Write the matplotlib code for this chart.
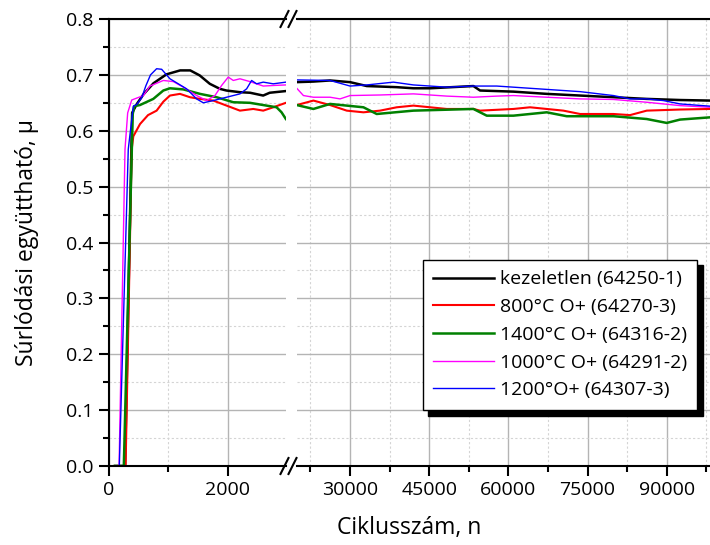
import matplotlib
matplotlib.use("Agg")
import matplotlib.pyplot as plt
from matplotlib.lines import Line2D
from matplotlib.ticker import MultipleLocator, FixedLocator, FormatStrFormatter

plt.rcParams['font.family'] = ['Open Sans', 'DejaVu Sans']

# ----------------------------------------------------------------------
# data: cycles / friction coefficient, left (start-up) and right (long run)
# ----------------------------------------------------------------------
labels = ["kezeletlen (64250-1)", "800°C O+ (64270-3)", "1400°C O+ (64316-2)",
          "1000°C O+ (64291-2)", "1200°O+ (64307-3)"]
colors = ["black", "#ff0000", "#008000", "#ff00ff", "#0000ff"]
widths = [1.8, 1.5, 1.8, 1.0, 1.0]

black_x_l = [100, 270, 390, 470, 580, 750, 970, 1200, 1370, 1530, 1700, 1870, 1980, 2210, 2380, 2600, 2710, 2980]
black_y_l = [0, 0, 0.632, 0.648, 0.665, 0.685, 0.701, 0.708, 0.708, 0.699, 0.684, 0.675, 0.672, 0.669, 0.668, 0.663, 0.668, 0.671]
red_x_l = [100, 280, 383, 410, 523, 658, 803, 916, 1028, 1197, 1365, 1534, 1758, 1983, 2208, 2433, 2601, 2770, 2983]
red_y_l = [0, 0, 0.567, 0.59, 0.612, 0.628, 0.636, 0.652, 0.663, 0.666, 0.660, 0.657, 0.654, 0.645, 0.636, 0.639, 0.636, 0.642, 0.650]
green_x_l = [100, 250, 400, 427, 522, 747, 916, 1028, 1253, 1534, 1815, 2096, 2376, 2657, 2826, 2910, 2983]
green_y_l = [0, 0, 0.63, 0.644, 0.646, 0.657, 0.672, 0.676, 0.674, 0.666, 0.660, 0.651, 0.650, 0.645, 0.642, 0.633, 0.621]
magenta_x_l = [100, 170, 270, 315, 383, 580, 690, 916, 1084, 1253, 1478, 1646, 1787, 1899, 2011, 2096, 2208, 2376, 2601, 2770, 2983]
magenta_y_l = [0, 0, 0.567, 0.632, 0.655, 0.663, 0.680, 0.690, 0.688, 0.678, 0.663, 0.654, 0.663, 0.681, 0.696, 0.690, 0.693, 0.688, 0.680, 0.681, 0.682]
blue_x_l = [100, 174, 325, 410, 467, 551, 620, 700, 803, 888, 1028, 1309, 1478, 1590, 1758, 1983, 2208, 2321, 2405, 2489, 2601, 2770, 2983]
blue_y_l = [0, 0, 0.567, 0.644, 0.647, 0.659, 0.680, 0.700, 0.711, 0.710, 0.693, 0.675, 0.657, 0.650, 0.654, 0.660, 0.666, 0.675, 0.690, 0.684, 0.687, 0.684, 0.687]

black_x_r = [19900, 23050, 26210, 30000, 33160, 38840, 42000, 45160, 53370, 54630, 60950, 67260, 73580, 79900, 86210, 92530, 98210]
black_y_r = [0.687, 0.688, 0.690, 0.687, 0.680, 0.678, 0.676, 0.676, 0.680, 0.672, 0.670, 0.666, 0.663, 0.660, 0.657, 0.655, 0.654]
red_x_r = [19900, 23050, 26210, 29370, 32530, 35680, 38840, 42000, 48320, 53370, 54630, 60950, 64100, 70420, 73580, 79900, 83050, 86210, 92530, 98210]
red_y_r = [0.646, 0.654, 0.646, 0.636, 0.633, 0.636, 0.642, 0.645, 0.639, 0.639, 0.636, 0.639, 0.642, 0.636, 0.630, 0.630, 0.628, 0.636, 0.638, 0.639]
green_x_r = [19900, 23050, 26210, 32530, 35050, 42000, 53370, 55900, 60950, 67260, 71050, 79900, 86210, 90000, 92530, 98210]
green_y_r = [0.646, 0.639, 0.648, 0.642, 0.630, 0.636, 0.639, 0.627, 0.627, 0.633, 0.626, 0.626, 0.621, 0.614, 0.620, 0.624]
magenta_x_r = [19900, 21160, 23050, 26210, 28100, 30000, 35680, 42000, 48320, 53370, 57790, 60950, 67260, 73580, 79900, 86210, 92530, 98210]
magenta_y_r = [0.676, 0.663, 0.660, 0.660, 0.657, 0.663, 0.664, 0.666, 0.662, 0.660, 0.662, 0.663, 0.660, 0.657, 0.656, 0.651, 0.645, 0.642]
blue_x_r = [19900, 26210, 30000, 33160, 38210, 42000, 48320, 53370, 57790, 60950, 67260, 73580, 79900, 83050, 86210, 89370, 92530, 98210]
blue_y_r = [0.691, 0.690, 0.680, 0.682, 0.687, 0.682, 0.678, 0.680, 0.680, 0.678, 0.674, 0.670, 0.663, 0.657, 0.657, 0.654, 0.648, 0.644]

left_series = [(black_x_l, black_y_l), (red_x_l, red_y_l), (green_x_l, green_y_l),
               (magenta_x_l, magenta_y_l), (blue_x_l, blue_y_l)]
right_series = [(black_x_r, black_y_r), (red_x_r, red_y_r), (green_x_r, green_y_r),
                (magenta_x_r, magenta_y_r), (blue_x_r, blue_y_r)]

# ----------------------------------------------------------------------
# figure with a broken x axis (two axes side by side)
# ----------------------------------------------------------------------
W, H = 710, 545
fig = plt.figure(figsize=(W / 100, H / 100), dpi=100)
bottom = 1 - 466 / H
height = (466 - 19) / H
ax_l = fig.add_axes([109 / W, bottom, 177.3 / W, height])
ax_r = fig.add_axes([297.3 / W, bottom, (W - 297.3) / W, height])

for (x, y), c, lw in zip(left_series, colors, widths):
    ax_l.plot(x, y, color=c, lw=lw)
for (x, y), c, lw, lab in zip(right_series, colors, widths, labels):
    ax_r.plot(x, y, color=c, lw=lw, label=lab)

ax_l.set_xlim(0, 2990)
ax_r.set_xlim(20000, 98200)
for ax in (ax_l, ax_r):
    ax.set_ylim(0, 0.8)
    ax.yaxis.set_major_locator(MultipleLocator(0.1))
    ax.yaxis.set_minor_locator(MultipleLocator(0.05))
    ax.grid(which='major', color='#b4b4b4', lw=1.0, ls='-')
    ax.grid(which='minor', color='#d4d4d4', lw=0.8, ls=(0, (2, 2)))
    ax.set_axisbelow(True)
    ax.spines['right'].set_visible(False)
    for s in ('top', 'bottom', 'left'):
        ax.spines[s].set_linewidth(1.5)
    ax.tick_params(which='major', direction='out', length=7, width=1.5, labelsize=14, pad=4)
    ax.tick_params(which='minor', direction='out', length=4, width=1.5)
    ax.tick_params(axis='both', which='both', top=False, right=False)

ax_l.xaxis.set_major_locator(FixedLocator([0, 2000]))
ax_l.xaxis.set_minor_locator(FixedLocator([1000]))
ax_l.yaxis.set_major_formatter(FormatStrFormatter('%.1f'))

ax_r.xaxis.set_major_locator(FixedLocator([30000, 45000, 60000, 75000, 90000]))
ax_r.xaxis.set_minor_locator(FixedLocator([22500, 37500, 52500, 67500, 82500, 97500]))
ax_r.spines['left'].set_visible(False)
ax_r.tick_params(axis='y', which='both', left=False, labelleft=False)

# break marks
for xb in (284.5, 292.5):
    for yb in (19, 466):
        fig.add_artist(Line2D([(xb - 4) / W, (xb + 4) / W],
                              [1 - (yb + 8) / H, 1 - (yb - 8) / H],
                              color='black', lw=1.5))

fig.text(409.5 / W, 1 - 528 / H, "Ciklusszám, n", ha='center', va='center', fontsize=16.5)
fig.text(27 / W, 1 - 242 / H, "Súrlódási együttható, µ", ha='center', va='center',
         rotation=90, fontsize=16.5)

leg = ax_r.legend(loc='lower left', bbox_to_anchor=(0.3039, 0.1253), borderaxespad=0,
                  fontsize=14, frameon=True, fancybox=False, edgecolor='black',
                  handlelength=3.1, handletextpad=0.3, labelspacing=0.5, borderpad=0.55,
                  shadow={'color': 'black', 'alpha': 1, 'ox': 4, 'oy': -4})
leg.get_frame().set_linewidth(1.0)
leg.get_frame().set_alpha(1)

fig.savefig("out.png", dpi=100)
